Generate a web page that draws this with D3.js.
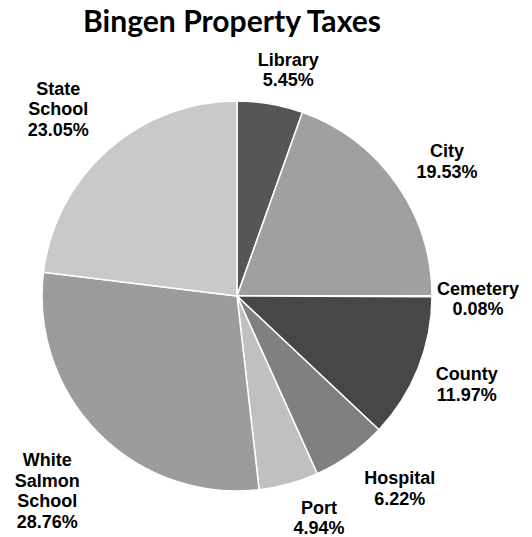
<!DOCTYPE html>
<html>
<head>
<meta charset="utf-8">
<script src="https://cdn.jsdelivr.net/npm/d3@7"></script>
<style>
body{margin:0;background:#fff;}
.lbl{font-family:"Liberation Sans",Arial,sans-serif;font-weight:bold;font-size:18px;fill:#000;}
.title{font-family:Lato,"Open Sans",sans-serif;font-weight:bold;fill:#000;}
</style>
</head>
<body>
<svg id="chart"></svg>
<script>
// slices clockwise from 12 o'clock
var names = ["Library","City","Cemetery","County","Hospital","Port","White Salmon School","State School"];
var labelLines = [["Library"],["City"],["Cemetery"],["County"],["Hospital"],["Port"],["White","Salmon","School"],["State","School"]];
var shares = [5.45,19.53,0.08,11.97,6.22,4.94,28.76,23.05];
var sliceColors = ["#565656","#a0a0a0","#d0d0d0","#474747","#808080","#c0c0c0","#9c9c9c","#c9c9c9"];
// hand nudges for the outside labels (excel moves them a bit)
var nudges = [[10,-1],[12,-3],[-12,2],[4,3],[19,6],[19,1],[-16,19],[-18,-8]];

var screen = {width:532,height:537};
var center = {x:237,y:296};
var radius = 195;

var svg = d3.select("#chart")
    .attr("width",screen.width)
    .attr("height",screen.height);

var data = names.map(function(n,i){
    return {name:n,lines:labelLines[i],value:shares[i],color:sliceColors[i],nudge:nudges[i]};
});

var pie = d3.pie()
    .sort(null)
    .value(function(d){ return d.value; });

var arc = d3.arc()
    .innerRadius(0)
    .outerRadius(radius);

var arcs = pie(data);

var g = svg.append("g")
    .attr("transform","translate("+center.x+","+center.y+")");

g.selectAll("path")
    .data(arcs)
    .enter()
    .append("path")
    .attr("d",arc)
    .attr("fill",function(d){ return d.data.color; })
    .attr("stroke","#fff")
    .attr("stroke-width",1.5)
    .attr("stroke-linejoin","round");

// labels
var fmt = d3.format(".2f");
var lineGap = 20.5, capH = 13, labelR = 212;

var labels = g.selectAll("text.lbl")
    .data(arcs)
    .enter()
    .append("text")
    .classed("lbl",true)
    .attr("text-anchor","middle");

labels.each(function(d){
    var t = d3.select(this);
    var lines = d.data.lines.concat([fmt(d.data.value)+"%"]);
    lines.forEach(function(s){
        t.append("tspan").text(s);
    });
    var w = d3.max(t.selectAll("tspan").nodes(),function(n){ return n.getComputedTextLength(); });
    var h = (lines.length-1)*lineGap + capH;
    var a = (d.startAngle+d.endAngle)/2;
    var s = Math.sin(a), c = Math.cos(a);
    var cx = labelR*s + s*w/2 + d.data.nudge[0];
    var cy = -labelR*c - c*h/2 + d.data.nudge[1];
    var top = cy - h/2 + capH;
    t.selectAll("tspan")
        .attr("x",cx)
        .attr("y",function(_,i){ return top + i*lineGap; });
});

// title
var title = svg.append("text")
    .classed("title",true)
    .attr("text-anchor","middle")
    .attr("x",232)
    .attr("y",32)
    .style("font-size","30px")
    .text("Bingen Property Taxes");
var tw = title.node().getComputedTextLength();
title.style("font-size",(30*298/tw)+"px");
</script>
</body>
</html>
